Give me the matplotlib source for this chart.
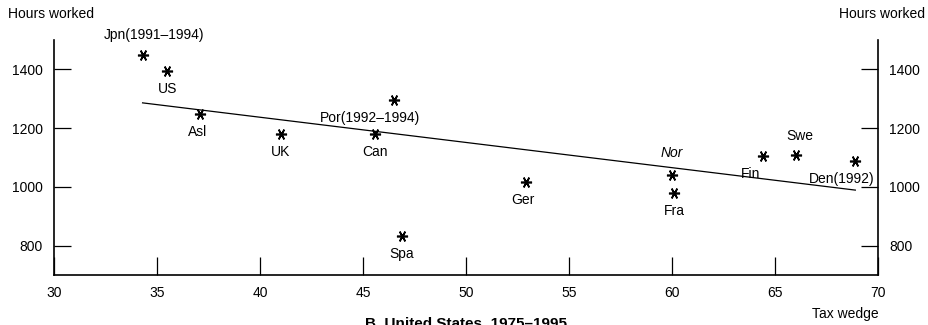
import matplotlib

matplotlib.use("Agg")
import matplotlib.pyplot as plt

plt.rcParams["font.family"] = ["Liberation Sans", "DejaVu Sans"]

# country observations: tax wedge (%) vs hours worked
countries = ["Jpn(1991\u20131994)", "US", "Asl", "UK", "Can", "Por(1992\u20131994)",
             "Spa", "Ger", "Nor", "Fra", "Fin", "Swe", "Den(1992)"]
tax_wedge = [34.3, 35.5, 37.1, 41.0, 45.6, 46.5, 46.9, 52.9, 60.0, 60.1, 64.4, 66.0, 68.9]
hours = [1450, 1395, 1248, 1180, 1180, 1295, 833, 1017, 1040, 978, 1105, 1108, 1088]

# label offsets (points) relative to each marker
label_dx = [8, 0, -2, 0, 0, -17, 0, -2, 0, 0, -9, 3, -10]
label_dy = [14, -13, -13, -13, -13, -13, -13, -13, 16, -13, -13, 14, -13]
italic = ["Nor"]

# fitted line end points
fit_x = [34.3, 68.9]
fit_y = [1286, 989]

fig = plt.figure(figsize=(9.29, 3.25), dpi=100)
ax = fig.add_axes([54 / 929, 50 / 325, 824 / 929, 235 / 325])

ax.plot(fit_x, fit_y, color="black", lw=0.9)
ax.plot(tax_wedge, hours, ls="none", marker=(6, 2, 90), ms=8, mew=1.2, color="black")

for name, x, y, dx, dy in zip(countries, tax_wedge, hours, label_dx, label_dy):
    ax.annotate(name, (x, y), xytext=(dx, dy), textcoords="offset points",
                ha="center", va="center", fontsize=10,
                style="italic" if name in italic else "normal")

ax.set_xlim(30, 70)
ax.set_ylim(700, 1500)
ax.set_xticks([30, 35, 40, 45, 50, 55, 60, 65, 70])
ax.set_yticks([800, 1000, 1200, 1400])
ax.spines["top"].set_visible(False)
for s in ("left", "right", "bottom"):
    ax.spines[s].set_linewidth(1.2)
ax.tick_params(axis="x", direction="in", length=13, width=0.9, labelsize=10, pad=8)
ax.tick_params(axis="y", direction="in", length=12, width=0.9, labelsize=10, pad=8,
               right=True, labelright=True, colors="black")

fig.text(8 / 929, 1 - 14 / 325, "Hours worked", fontsize=10, ha="left", va="center")
fig.text(925 / 929, 1 - 14 / 325, "Hours worked", fontsize=10, ha="right", va="center")
fig.text(879 / 929, 1 - 314 / 325, "Tax wedge", fontsize=10, ha="right", va="center")
fig.text(466 / 929, 1 - 316 / 325, "B. United States, 1975\u20131995", fontsize=11,
         fontweight="bold", ha="center", va="top")

fig.savefig("out.png", dpi=100)
